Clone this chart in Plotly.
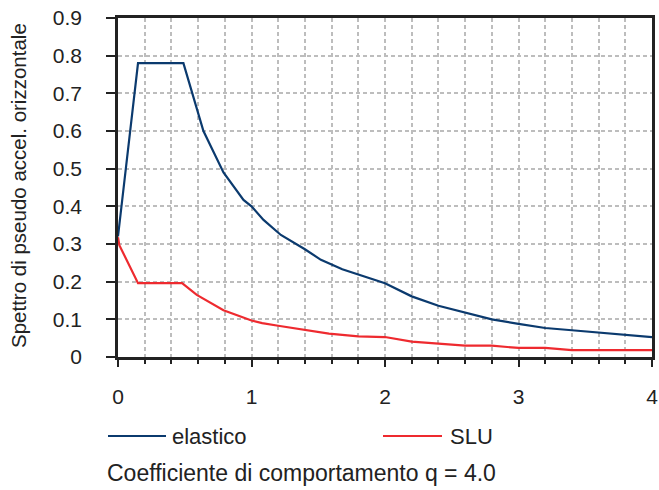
import plotly.graph_objects as go

# Data
T_elastico = [0.0, 0.15, 0.49, 0.64, 0.79, 0.94, 1.0, 1.09, 1.22, 1.4, 1.52, 1.68, 2.0, 2.2, 2.4, 2.6, 2.8, 3.0, 3.2, 3.4, 3.6, 3.8, 4.0]
Sa_elastico = [0.32, 0.78, 0.78, 0.60, 0.49, 0.417, 0.40, 0.364, 0.324, 0.286, 0.258, 0.233, 0.196, 0.161, 0.136, 0.118, 0.100, 0.088, 0.077, 0.071, 0.065, 0.059, 0.053]

T_slu = [0.0, 0.01, 0.15, 0.48, 0.59, 0.79, 1.0, 1.08, 1.2, 1.4, 1.58, 1.8, 2.0, 2.2, 2.4, 2.6, 2.8, 3.0, 3.2, 3.4, 4.0]
Sa_slu = [0.318, 0.297, 0.196, 0.196, 0.165, 0.124, 0.097, 0.090, 0.083, 0.071, 0.062, 0.055, 0.053, 0.041, 0.035, 0.030, 0.030, 0.024, 0.024, 0.018, 0.018]

series_names = ["elastico", "SLU"]
series_colors = ["#0b3a6e", "#ee2a2f"]
x_tick_vals = [0, 1, 2, 3, 4]
y_tick_vals = [0, 0.1, 0.2, 0.3, 0.4, 0.5, 0.6, 0.7, 0.8, 0.9]
y_title = "Spettro di pseudo accel. orizzontale"
caption = "Coefficiente di comportamento q = 4.0"

FONT = "Liberation Sans, Arial, sans-serif"
TXT = "#222222"
GRID = "#bdbdbd"

W, H = 659, 490
L, R, T, B = 118, 7, 18, 133
pw, ph = W - L - R, H - T - B

def px(x):
    return (x - L) / pw

def py(y):
    return (H - B - y) / ph

fig = go.Figure()
for xs, ys, name, col in [(T_elastico, Sa_elastico, series_names[0], series_colors[0]),
                          (T_slu, Sa_slu, series_names[1], series_colors[1])]:
    fig.add_trace(go.Scatter(x=xs, y=ys, mode="lines", name=name,
                             line=dict(color=col, width=2.2), showlegend=False))

fig.update_layout(
    width=W, height=H,
    margin=dict(l=L, r=R, t=T, b=B, autoexpand=False),
    paper_bgcolor="white", plot_bgcolor="white",
    font=dict(family=FONT, color=TXT, size=18),
    xaxis=dict(range=[0, 4], tickvals=x_tick_vals, showgrid=True, gridcolor=GRID,
               griddash="4px,3px", gridwidth=1.5, automargin=False, ticklabeloverflow="allow",
               ticks="outside", ticklen=7, tickwidth=2, tickcolor="#222", ticklabelstandoff=12,
               minor=dict(dtick=0.2, showgrid=True, gridcolor=GRID, griddash="4px,3px",
                          gridwidth=1.5, ticks="outside", ticklen=4, tickwidth=2, tickcolor="#222"),
               showline=True, linecolor="#222", linewidth=2.5, mirror=True,
               zeroline=False, tickfont=dict(size=21, family=FONT, color=TXT)),
    yaxis=dict(range=[0, 0.9], tickvals=y_tick_vals, ticktext=[f"{v:g}" for v in y_tick_vals],
               showgrid=True, gridcolor=GRID, griddash="4px,3px", gridwidth=1.5, automargin=False,
               ticklabeloverflow="allow",
               ticks="outside", ticklen=9, tickwidth=2, tickcolor="#222", ticklabelstandoff=20,
               showline=True, linecolor="#222", linewidth=2.5, mirror=True,
               zeroline=False, tickfont=dict(size=21, family=FONT, color=TXT)),
)

fig.add_annotation(xref="paper", yref="paper", x=px(18), y=py(186), text=y_title,
                   textangle=-90, showarrow=False, xanchor="center", yanchor="middle",
                   font=dict(size=20.5, family=FONT, color=TXT))

# legend (drawn manually to match the reference's long line samples)
legend_pos = [(108, 166, 170), (383, 442, 448)]
for (x0, x1, xt), name, col in zip(legend_pos, series_names, series_colors):
    fig.add_shape(type="line", xref="paper", yref="paper", x0=px(x0), x1=px(x1),
                  y0=py(436), y1=py(436), line=dict(color=col, width=2.2))
    fig.add_annotation(xref="paper", yref="paper", x=px(xt), y=py(436), text=name,
                       showarrow=False, xanchor="left", yanchor="middle",
                       font=dict(size=22, family=FONT, color=TXT))

fig.add_annotation(xref="paper", yref="paper", x=px(105), y=py(473), text=caption,
                   showarrow=False, xanchor="left", yanchor="middle",
                   font=dict(size=23, family=FONT, color=TXT))

fig.write_html("out.html",
               config={"displayModeBar": False},
               post_script="document.body.style.margin='0';document.body.style.overflow='hidden';")
